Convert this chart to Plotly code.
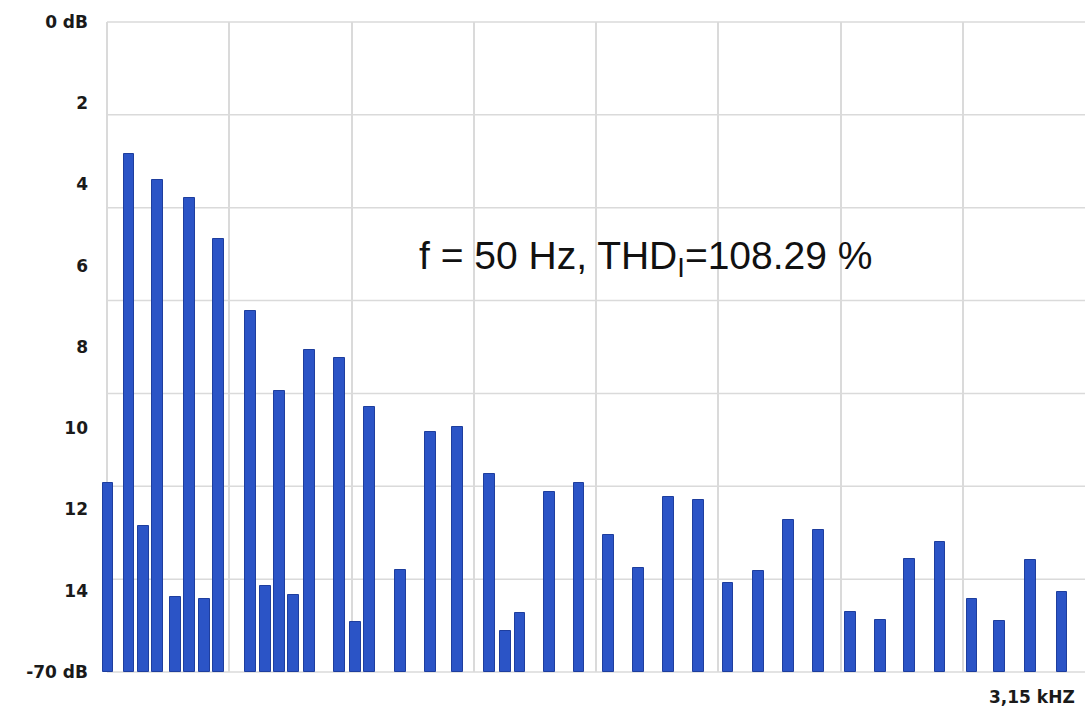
import plotly.graph_objects as go

# Frequencies (Hz) of the spectral lines
freq_hz = [3, 71, 118, 163, 221, 266, 314, 360, 462, 510, 556, 602, 653, 750, 800,
           846, 945, 1042, 1129, 1232, 1284, 1330, 1425, 1520, 1615, 1712, 1808, 1905,
           2000, 2098, 2195, 2293, 2395, 2491, 2586, 2683, 2786, 2875, 2975, 3076]

# Top of each bar, read on the printed level scale (0 = "0 dB" at top, 16 = "-70 dB" at bottom)
level = [11.34, 3.25, 12.40, 3.89, 14.15, 4.32, 14.20, 5.33, 7.11, 13.88, 9.08, 14.10,
         8.07, 8.28, 14.76, 9.48, 13.49, 10.08, 9.96, 11.13, 14.98, 14.54, 11.57, 11.34,
         12.63, 13.44, 11.68, 11.77, 13.80, 13.51, 12.26, 12.50, 14.53, 14.72, 13.22,
         12.81, 14.20, 14.74, 13.24, 14.02]

scale_vals = [0, 2, 4, 6, 8, 10, 12, 14, 16]
scale_text = ["0 dB", "2", "4", "6", "8", "10", "12", "14", "-70 dB"]

bottom = 16
f_max = 3150
n_hgrid = 7
n_vgrid = 8

heights = [bottom - v for v in level]

fig = go.Figure()
fig.add_trace(go.Bar(
    x=freq_hz, y=heights, width=35,
    marker=dict(color="#2b54c6", line=dict(color="#1e3e9e", width=1)),
    showlegend=False,
))

grid_col = "#dadada"
shapes = []
for k in range(n_hgrid + 1):
    shapes.append(dict(type="line", xref="x", x0=0, x1=f_max, yref="paper",
                       y0=k / n_hgrid, y1=k / n_hgrid, layer="below",
                       line=dict(color=grid_col, width=1.5)))

fig.update_layout(
    width=1088, height=708,
    margin=dict(l=99, r=3, t=22, b=36),
    paper_bgcolor="white", plot_bgcolor="white",
    shapes=shapes,
    bargap=0,
    xaxis=dict(range=[-25.8, f_max], tick0=0, dtick=f_max / n_vgrid,
               showgrid=True, gridcolor=grid_col, gridwidth=1.5,
               showticklabels=False, zeroline=False, showline=False, ticks=""),
    yaxis=dict(range=[0, bottom], tickvals=[bottom - v for v in scale_vals],
               ticktext=["<b>%s</b>" % t for t in scale_text],
               showgrid=False, zeroline=False, showline=False,
               ticks="", ticklabelstandoff=10,
               tickfont=dict(family="DejaVu Sans", size=17, color="#1a1a1a")),
    annotations=[
        dict(text="f = 50 Hz, THD<sub>I</sub>=108.29 %", xref="paper", yref="paper",
             x=(417 - 99) / (1088 - 99 - 3), y=(708 - 36 - 258) / 650,
             xanchor="left", yanchor="middle", showarrow=False,
             font=dict(family="Liberation Sans", size=39, color="#111111")),
        dict(text="<b>3,15 kHZ</b>", xref="paper", yref="paper",
             x=(1077 - 99) / (1088 - 99 - 3), y=(672 - 697) / 650,
             xanchor="right", yanchor="middle", showarrow=False,
             font=dict(family="DejaVu Sans", size=17, color="#1a1a1a")),
    ],
)

fig.write_html("out.html")
